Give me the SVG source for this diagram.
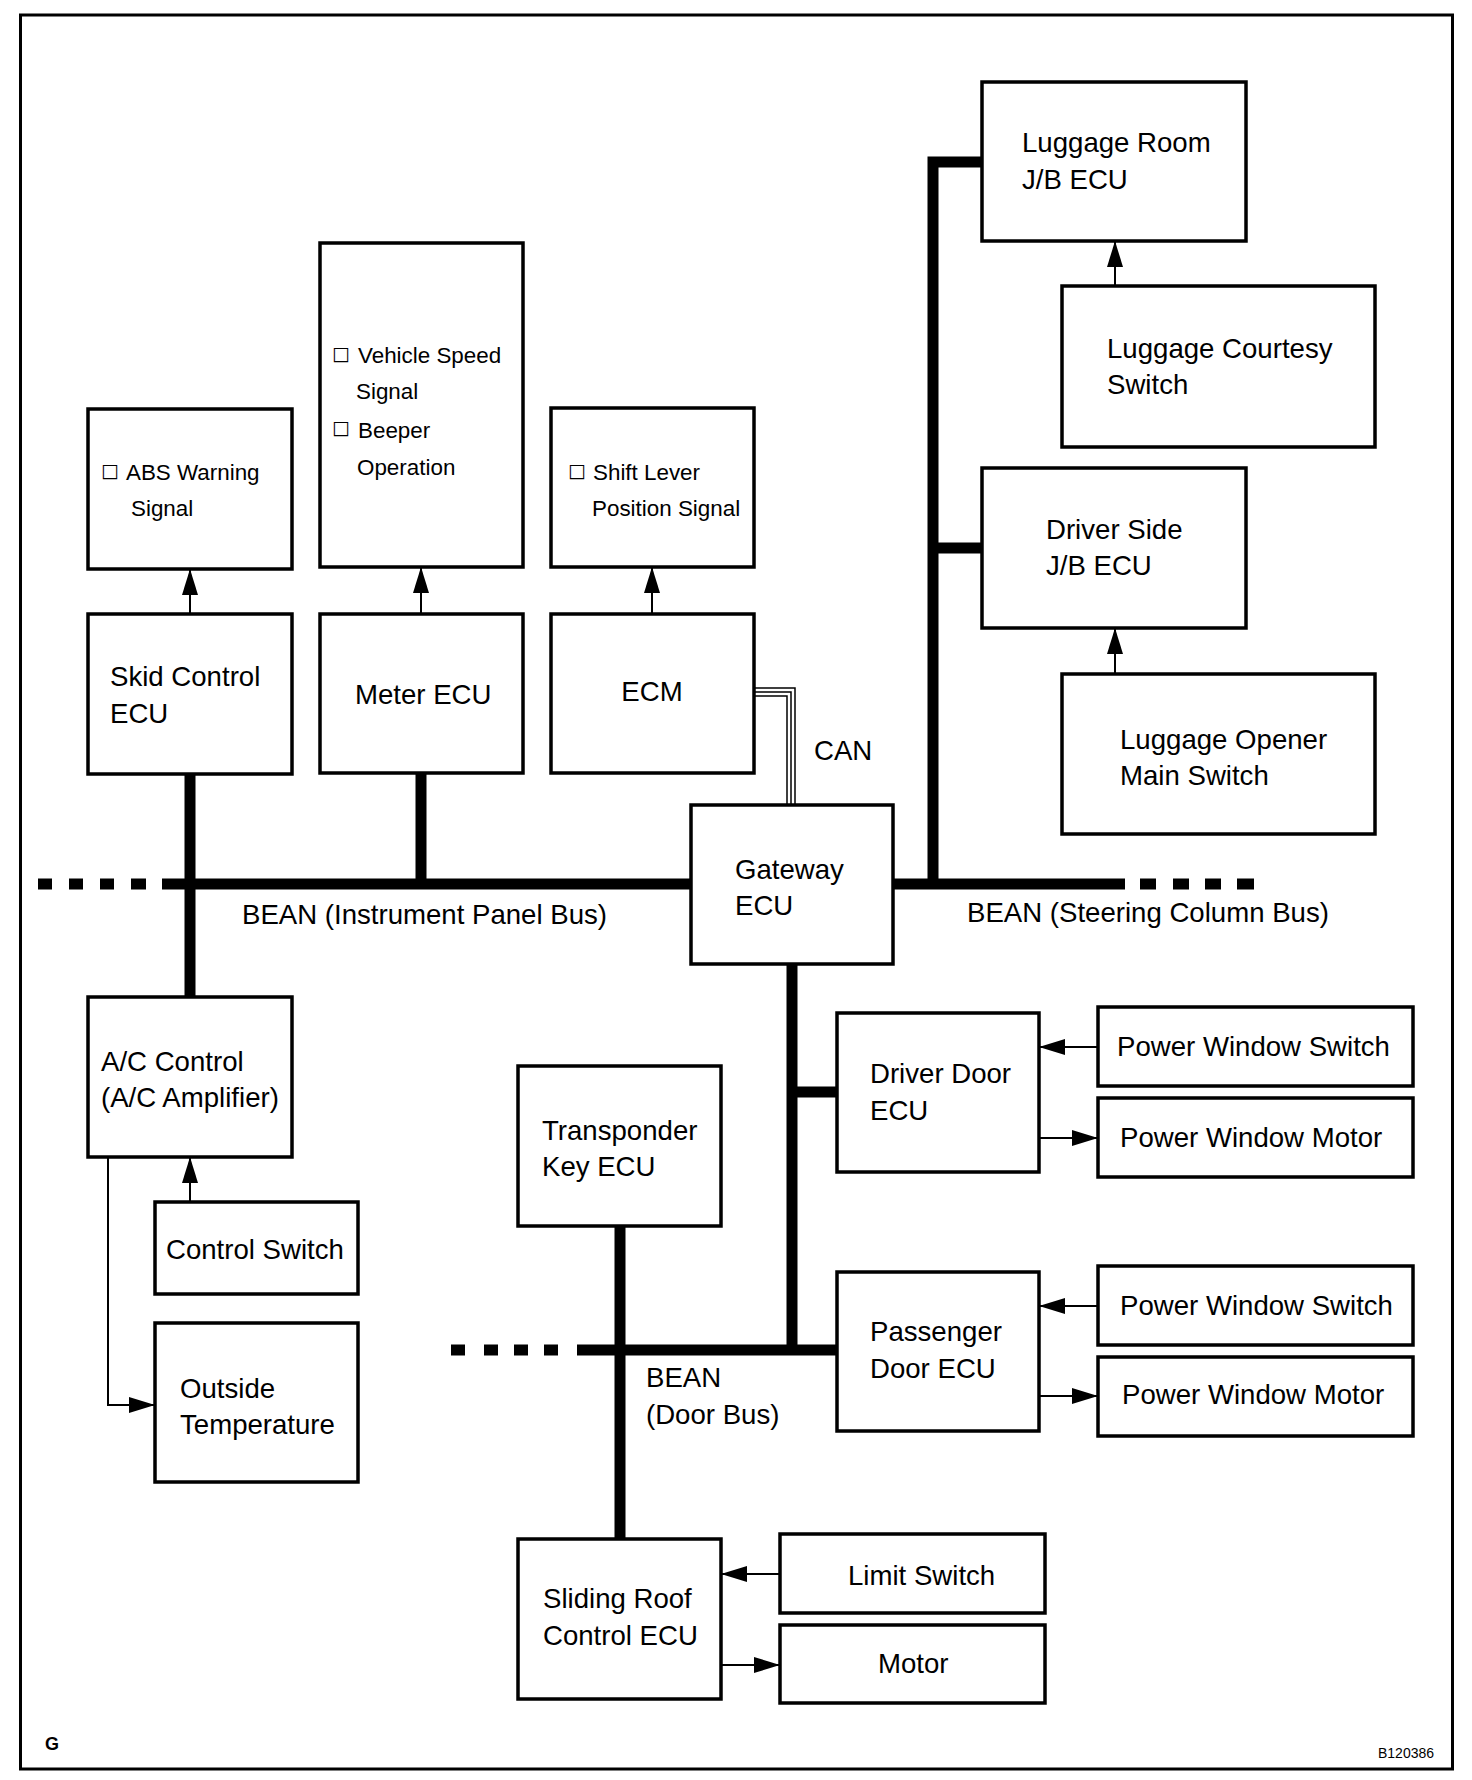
<svg xmlns="http://www.w3.org/2000/svg" width="1472" height="1780" viewBox="0 0 1472 1780">
<style>
.box{fill:#fff;stroke:#000;stroke-width:3.5}
.t{font-family:"Liberation Sans",Arial,sans-serif;font-size:27.6px;fill:#000}
.s{font-family:"Liberation Sans","DejaVu Sans",Arial,sans-serif;font-size:22.4px;fill:#000}
.cb{font-family:"DejaVu Sans","Liberation Sans",sans-serif;font-size:19px;fill:#000}
.bus{stroke:#000;stroke-width:11;fill:none;stroke-linecap:butt}
.thin{stroke:#000;stroke-width:2;fill:none}
.can{stroke:#000;stroke-width:1.5;fill:none}
</style>
<defs>
<marker id="ah" viewBox="0 0 26 16" refX="26" refY="8" markerWidth="26" markerHeight="16" orient="auto" markerUnits="userSpaceOnUse">
<path d="M0,0 L26,8 L0,16 z" fill="#000"/>
</marker>
</defs>
<rect x="0" y="0" width="1472" height="1780" fill="#fff"/>
<rect x="20.5" y="15" width="1432" height="1754" fill="none" stroke="#000" stroke-width="3"/>

<g id="connectors">
<path class="bus" d="M162,884 H691 M38,884 H52 M69,884 H83 M100,884 H114 M131,884 H146"/>
<path class="bus" d="M190,774 V997"/>
<path class="bus" d="M421,773 V884"/>
<path class="bus" d="M893,884 H1125 M1140,884 H1156 M1173,884 H1189 M1205,884 H1221 M1237,884 H1254"/>
<path class="bus" d="M933,889 V162 H982 M933,548 H982"/>
<path class="bus" d="M792,964 V1350 M792,1092 H837"/>
<path class="bus" d="M577,1350 H837 M451,1350 H465 M484,1350 H498 M514,1350 H528 M544,1350 H558"/>
<path class="bus" d="M620,1226 V1539"/>
<path class="can" d="M754,688 H795 V805 M754,692 H791 V805 M754,696 H787 V805"/>
<path class="thin" marker-end="url(#ah)" d="M190,614 V569"/>
<path class="thin" marker-end="url(#ah)" d="M421,614 V567"/>
<path class="thin" marker-end="url(#ah)" d="M652,614 V567"/>
<path class="thin" marker-end="url(#ah)" d="M1115,286 V241"/>
<path class="thin" marker-end="url(#ah)" d="M1115,674 V628"/>
<path class="thin" marker-end="url(#ah)" d="M190,1202 V1157"/>
<path class="thin" marker-end="url(#ah)" d="M108,1157 V1405 H155"/>
<path class="thin" marker-end="url(#ah)" d="M1098,1047 H1039"/>
<path class="thin" marker-end="url(#ah)" d="M1039,1138 H1098"/>
<path class="thin" marker-end="url(#ah)" d="M1098,1306 H1039"/>
<path class="thin" marker-end="url(#ah)" d="M1039,1396 H1098"/>
<path class="thin" marker-end="url(#ah)" d="M780,1574 H721"/>
<path class="thin" marker-end="url(#ah)" d="M721,1665 H780"/>
</g>

<g id="abs"><rect class="box" x="88" y="409" width="204" height="160"/>
<text class="cb" x="101" y="477">□</text>
<text class="s" x="126" y="480">ABS Warning</text><text class="s" x="131" y="516">Signal</text></g>
<g id="vss"><rect class="box" x="320" y="243" width="203" height="324"/>
<text class="cb" x="332" y="360">□</text>
<text class="s" x="358" y="363">Vehicle Speed</text><text class="s" x="356" y="399">Signal</text>
<text class="cb" x="332" y="434">□</text>
<text class="s" x="358" y="438">Beeper</text><text class="s" x="357" y="475">Operation</text></g>
<g id="shift"><rect class="box" x="551" y="408" width="203" height="159"/>
<text class="cb" x="568" y="477">□</text>
<text class="s" x="593" y="480">Shift Lever</text><text class="s" x="592" y="516">Position Signal</text></g>
<g id="skid"><rect class="box" x="88" y="614" width="204" height="160"/>
<text class="t" x="110" y="686">Skid Control</text><text class="t" x="110" y="723">ECU</text></g>
<g id="meter"><rect class="box" x="320" y="614" width="203" height="159"/>
<text class="t" x="355" y="704">Meter ECU</text></g>
<g id="ecm"><rect class="box" x="551" y="614" width="203" height="159"/>
<text class="t" x="652" y="701" text-anchor="middle">ECM</text></g>
<g id="gateway"><rect class="box" x="691" y="805" width="202" height="159"/>
<text class="t" x="735" y="879">Gateway</text><text class="t" x="735" y="915">ECU</text></g>
<g id="lroom"><rect class="box" x="982" y="82" width="264" height="159"/>
<text class="t" x="1022" y="152">Luggage Room</text><text class="t" x="1022" y="189">J/B ECU</text></g>
<g id="lcourt"><rect class="box" x="1062" y="286" width="313" height="161"/>
<text class="t" x="1107" y="358">Luggage Courtesy</text><text class="t" x="1107" y="394">Switch</text></g>
<g id="dside"><rect class="box" x="982" y="468" width="264" height="160"/>
<text class="t" x="1046" y="539">Driver Side</text><text class="t" x="1046" y="575">J/B ECU</text></g>
<g id="lopen"><rect class="box" x="1062" y="674" width="313" height="160"/>
<text class="t" x="1120" y="749">Luggage Opener</text><text class="t" x="1120" y="785">Main Switch</text></g>
<g id="ac"><rect class="box" x="88" y="997" width="204" height="160"/>
<text class="t" x="101" y="1071">A/C Control</text><text class="t" x="101" y="1107">(A/C Amplifier)</text></g>
<g id="cswitch"><rect class="box" x="155" y="1202" width="203" height="92"/>
<text class="t" x="166" y="1259">Control Switch</text></g>
<g id="otemp"><rect class="box" x="155" y="1323" width="203" height="159"/>
<text class="t" x="180" y="1398">Outside</text><text class="t" x="180" y="1434">Temperature</text></g>
<g id="transp"><rect class="box" x="518" y="1066" width="203" height="160"/>
<text class="t" x="542" y="1140">Transponder</text><text class="t" x="542" y="1176">Key ECU</text></g>
<g id="ddoor"><rect class="box" x="837" y="1013" width="202" height="159"/>
<text class="t" x="870" y="1083">Driver Door</text><text class="t" x="870" y="1120">ECU</text></g>
<g id="pws1"><rect class="box" x="1098" y="1007" width="315" height="79"/>
<text class="t" x="1117" y="1056">Power Window Switch</text></g>
<g id="pwm1"><rect class="box" x="1098" y="1098" width="315" height="79"/>
<text class="t" x="1120" y="1147">Power Window Motor</text></g>
<g id="pdoor"><rect class="box" x="837" y="1272" width="202" height="159"/>
<text class="t" x="870" y="1341">Passenger</text><text class="t" x="870" y="1378">Door ECU</text></g>
<g id="pws2"><rect class="box" x="1098" y="1266" width="315" height="79"/>
<text class="t" x="1120" y="1315">Power Window Switch</text></g>
<g id="pwm2"><rect class="box" x="1098" y="1357" width="315" height="79"/>
<text class="t" x="1122" y="1404">Power Window Motor</text></g>
<g id="sroof"><rect class="box" x="518" y="1539" width="203" height="160"/>
<text class="t" x="543" y="1608">Sliding Roof</text><text class="t" x="543" y="1645">Control ECU</text></g>
<g id="limit"><rect class="box" x="780" y="1534" width="265" height="79"/>
<text class="t" x="848" y="1585">Limit Switch</text></g>
<g id="motor"><rect class="box" x="780" y="1625" width="265" height="78"/>
<text class="t" x="878" y="1673">Motor</text></g>

<g id="labels">
<text class="t" x="242" y="924">BEAN (Instrument Panel Bus)</text>
<text class="t" x="967" y="922">BEAN (Steering Column Bus)</text>
<text class="t" x="814" y="760">CAN</text>
<text class="t" x="646" y="1387">BEAN</text>
<text class="t" x="646" y="1424">(Door Bus)</text>
<text x="45" y="1750" style="font-family:'Liberation Sans',Arial,sans-serif;font-size:18px;font-weight:bold">G</text>
<text x="1378" y="1758" style="font-family:'Liberation Sans',Arial,sans-serif;font-size:14px">B120386</text>
</g>
</svg>
